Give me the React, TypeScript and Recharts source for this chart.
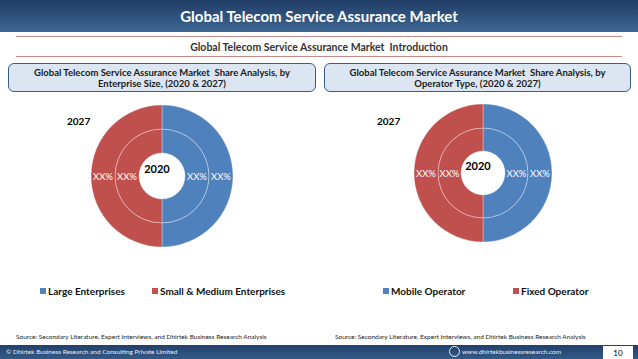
import React from 'react';
import { PieChart, Pie, Cell, Legend } from 'recharts';

// share values (2020 inner ring, 2027 outer ring); the slide only shows placeholders
const enterpriseSizes = ['Large Enterprises', 'Small & Medium Enterprises'];
const enterpriseShare2020 = [50, 50];
const enterpriseShare2027 = [50, 50];

const operatorTypes = ['Mobile Operator', 'Fixed Operator'];
const operatorShare2020 = [50, 50];
const operatorShare2027 = [50, 50];

const shareTags = ['XX%', 'XX%'];
const sliceColors = ['#4f81bd', '#c0504d'];

const FONT = "Lato, 'Open Sans', sans-serif";

const buildRows = (names: string[], values: number[]) =>
    names.map((name, i) => ({ name, value: values[i], tag: shareTags[i] }));

const renderTag = (props: any) => {
    const { cx, cy, midAngle, innerRadius, outerRadius } = props;
    const tag = props.payload?.tag ?? props.tag;
    const r = (innerRadius + outerRadius) / 2;
    const rad = Math.PI / 180;
    const x = cx + r * Math.cos(-midAngle * rad);
    const y = cy + r * Math.sin(-midAngle * rad);
    return (
        <text x={x} y={y} fill="#fff" textAnchor="middle" dominantBaseline="central" fontSize={9.5} fontFamily={FONT}>
            {tag}
        </text>
    );
};

type DonutProps = {
    names: string[];
    inner: number[];
    outer: number[];
    left: number;
    cx: number;
    cy: number;
    radii: [number, number, number];
    legendX: [number, number];
};

const Donut: React.FC<DonutProps> = ({ names, inner, outer, left, cx, cy, radii, legendX }) => {
    const legend = () => (
        <div style={{ position: 'relative', height: 14, fontFamily: FONT, fontSize: 10, fontWeight: 700, color: '#111' }}>
            {names.map((n, i) => (
                <div key={n} style={{ position: 'absolute', left: legendX[i], top: 0, display: 'flex', alignItems: 'center', whiteSpace: 'nowrap' }}>
                    <span style={{ width: 6, height: 6, background: sliceColors[i], marginRight: 2 }} />
                    {n}
                </div>
            ))}
        </div>
    );
    return (
        <div style={{ position: 'absolute', left, top: 95 }}>
            <PieChart width={319} height={215}>
                <Pie
                    data={buildRows(names, inner)}
                    dataKey="value"
                    cx={cx}
                    cy={cy}
                    innerRadius={radii[0]}
                    outerRadius={radii[1]}
                    startAngle={90}
                    endAngle={-270}
                    stroke="rgba(255,255,255,0.45)"
                    strokeWidth={0.7}
                    label={renderTag}
                    labelLine={false}
                    isAnimationActive={false}
                >
                    {names.map((n, i) => <Cell key={n} fill={sliceColors[i]} />)}
                </Pie>
                <Pie
                    data={buildRows(names, outer)}
                    dataKey="value"
                    cx={cx}
                    cy={cy}
                    innerRadius={radii[1]}
                    outerRadius={radii[2]}
                    startAngle={90}
                    endAngle={-270}
                    stroke="rgba(255,255,255,0.45)"
                    strokeWidth={0.7}
                    label={renderTag}
                    labelLine={false}
                    isAnimationActive={false}
                >
                    {names.map((n, i) => <Cell key={n} fill={sliceColors[i]} />)}
                </Pie>
                <Legend content={legend} wrapperStyle={{ left: 0, top: 190, width: 319, bottom: 'auto' }} />
            </PieChart>
            <div style={{ position: 'absolute', left: cx - 20, top: cy - 9, width: 40, textAlign: 'center', fontSize: 11, fontWeight: 700, color: '#000', fontFamily: FONT }}>2020</div>
        </div>
    );
};

const boxStyle: React.CSSProperties = {
    position: 'absolute',
    top: 63,
    height: 29,
    background: '#dce6f2',
    border: '1.5px solid #385d8a',
    borderRadius: 6,
    boxSizing: 'border-box',
    display: 'flex',
    alignItems: 'center',
    justifyContent: 'center',
    textAlign: 'center',
    fontSize: 9.5,
    fontWeight: 700,
    lineHeight: '11px',
    color: '#1a1a1a',
};

const App: React.FC = () => {
    return (
        <div style={{ position: 'absolute', left: 0, top: 0, width: 638, height: 359, background: '#fff', overflow: 'hidden', fontFamily: FONT }}>
            <div style={{ position: 'absolute', left: 0, top: 0, width: 638, height: 32, background: 'linear-gradient(#203d66, #3e6693)', color: '#fff', fontSize: 15, fontWeight: 700, display: 'flex', alignItems: 'center', justifyContent: 'center' }}>
                Global Telecom Service Assurance Market
            </div>
            <div style={{ position: 'absolute', left: 16, top: 36, width: 606, height: 21, borderTop: '1.5px solid #c98a88', borderBottom: '1.5px solid #c98a88', boxSizing: 'border-box', display: 'flex', alignItems: 'center', justifyContent: 'center', fontSize: 10.5, fontWeight: 700, color: '#333' }}>
                Global Telecom Service Assurance Market&nbsp; Introduction
            </div>
            <div style={{ ...boxStyle, left: 8, width: 308 }}>
                Global Telecom Service Assurance Market&nbsp; Share Analysis, by<br />Enterprise Size, (2020 &amp; 2027)
            </div>
            <div style={{ ...boxStyle, left: 324, width: 307 }}>
                Global Telecom Service Assurance Market&nbsp; Share Analysis, by<br />Operator Type, (2020 &amp; 2027)
            </div>

            <Donut names={enterpriseSizes} inner={enterpriseShare2020} outer={enterpriseShare2027} left={0} cx={157} cy={76} radii={[23, 47, 71]} legendX={[40, 152]} />
            <Donut names={operatorTypes} inner={operatorShare2020} outer={operatorShare2027} left={319} cx={159} cy={73} radii={[22, 45, 69]} legendX={[64, 194]} />

            <div style={{ position: 'absolute', left: 67, top: 115, fontSize: 10, fontWeight: 700, color: '#000' }}>2027</div>
            <div style={{ position: 'absolute', left: 377, top: 115, fontSize: 10, fontWeight: 700, color: '#000' }}>2027</div>

            <div style={{ position: 'absolute', left: 16, top: 333, fontSize: 6.5, color: '#222', whiteSpace: 'nowrap' }}>
                Source: Secondary Literature, Expert Interviews, and Dhirtek Business Research Analysis
            </div>
            <div style={{ position: 'absolute', left: 335, top: 333, fontSize: 6.5, color: '#222', whiteSpace: 'nowrap' }}>
                Source: Secondary Literature, Expert Interviews, and Dhirtek Business Research Analysis
            </div>

            <div style={{ position: 'absolute', left: 0, top: 345, width: 638, height: 14, background: 'linear-gradient(#22406a, #345a88)', color: '#e8eef6', fontSize: 6.5 }}>
                <div style={{ position: 'absolute', left: 6, top: 3 }}>© Dhirtek Business Research and Consulting Private Limited</div>
                <div style={{ position: 'absolute', left: 449, top: 1, width: 11, height: 11, borderRadius: '50%', border: '1px solid #e8eef6', boxSizing: 'border-box' }} />
                <div style={{ position: 'absolute', left: 462, top: 3 }}>www.dhirtekbusinessresearch.com</div>
                <div style={{ position: 'absolute', left: 603, top: 1, width: 30, height: 13, background: '#fff', color: '#000', fontSize: 8, display: 'flex', alignItems: 'center', justifyContent: 'center' }}>10</div>
            </div>
        </div>
    );
};

export default App;
